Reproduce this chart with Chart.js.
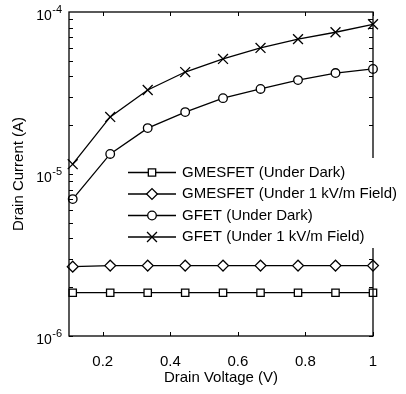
<!DOCTYPE html>
<html>
<head>
<meta charset="utf-8">
<script src="https://cdn.jsdelivr.net/npm/chart.js@4/dist/chart.umd.min.js"></script>
<style>
  html, body { margin: 0; padding: 0; background: #fff; }
  canvas { display: block; }
</style>
</head>
<body>
<canvas id="chart" width="406" height="394"></canvas>
<script>
// Drain voltage sweep (V)
const drainVoltage = [0.111, 0.222, 0.333, 0.444, 0.556, 0.667, 0.778, 0.889, 1.0];

// Drain current (A) for each device / condition
const gmesfetDark  = [1.85e-6, 1.85e-6, 1.85e-6, 1.85e-6, 1.85e-6, 1.85e-6, 1.85e-6, 1.85e-6, 1.85e-6];
const gmesfetField = [2.68e-6, 2.72e-6, 2.72e-6, 2.72e-6, 2.72e-6, 2.72e-6, 2.72e-6, 2.72e-6, 2.72e-6];
const gfetDark     = [7.0e-6, 1.33e-5, 1.92e-5, 2.41e-5, 2.94e-5, 3.35e-5, 3.8e-5, 4.2e-5, 4.45e-5];
const gfetField    = [1.15e-5, 2.25e-5, 3.3e-5, 4.26e-5, 5.13e-5, 6.0e-5, 6.8e-5, 7.5e-5, 8.4e-5];

const seriesNames = [
  'GMESFET (Under Dark)',
  'GMESFET (Under 1 kV/m Field)',
  'GFET (Under Dark)',
  'GFET (Under 1 kV/m Field)'
];

const xTickValues = [0.2, 0.4, 0.6, 0.8, 1];
const yDecadeExponents = [-6, -5, -4];

const FONT = '"Liberation Sans", Arial, Helvetica, sans-serif';
const seriesValues = [gmesfetDark, gmesfetField, gfetDark, gfetField];
const markerStyle = ['rect', 'rectRot', 'circle', 'crossRot'];
const markerRadius = [5.2, 5.4, 4.3, 7];

const datasets = seriesValues.map((vals, i) => ({
  label: seriesNames[i],
  data: drainVoltage.map((v, k) => ({ x: v, y: vals[k] })),
  borderColor: '#000',
  borderWidth: 1.3,
  pointStyle: markerStyle[i],
  pointRadius: markerRadius[i],
  pointBackgroundColor: '#fff',
  pointBorderColor: '#000',
  pointBorderWidth: 1.3,
  tension: 0,
  clip: false
}));

// Boxed axes with inward ticks and 10^n labels on the log axis
const axesFrame = {
  id: 'axesFrame',
  afterDatasetsDraw(chart) {
    const { ctx, chartArea: a, scales: { x, y } } = chart;
    ctx.save();
    ctx.strokeStyle = '#000';
    ctx.lineWidth = 1.3;
    ctx.strokeRect(a.left, a.top, a.right - a.left, a.bottom - a.top);

    ctx.lineWidth = 1;
    ctx.beginPath();
    const tl = 4;
    xTickValues.forEach(v => {
      const px = Math.round(x.getPixelForValue(v)) + 0.5;
      ctx.moveTo(px, a.bottom); ctx.lineTo(px, a.bottom - tl);
      ctx.moveTo(px, a.top); ctx.lineTo(px, a.top + tl);
    });
    for (let d = 0; d < yDecadeExponents.length - 1; d++) {
      for (let m = 1; m <= 9; m++) {
        const py = Math.round(y.getPixelForValue(m * Math.pow(10, yDecadeExponents[d]))) + 0.5;
        ctx.moveTo(a.left, py); ctx.lineTo(a.left + tl, py);
        ctx.moveTo(a.right, py); ctx.lineTo(a.right - tl, py);
      }
    }
    ctx.stroke();

    ctx.fillStyle = '#000';
    ctx.textBaseline = 'middle';
    yDecadeExponents.forEach(e => {
      const py = y.getPixelForValue(Math.pow(10, e));
      const expText = String(e);
      ctx.font = '11px ' + FONT;
      const expW = ctx.measureText(expText).width;
      const right = a.left - 7;
      ctx.textAlign = 'left';
      ctx.fillText(expText, right - expW, py - 2.5);
      ctx.font = '14px ' + FONT;
      ctx.textAlign = 'right';
      ctx.fillText('10', right - expW - 0.5, py + 4.5);
    });
    ctx.restore();
  }
};

// Legend inside the axes: line sample with marker, then the series name
const insetLegend = {
  id: 'insetLegend',
  afterDatasetsDraw(chart) {
    const { ctx } = chart;
    ctx.save();
    ctx.fillStyle = '#fff';
    ctx.fillRect(122, 158, 284, 90);
    const rowY = [172.5, 194, 215.5, 237];
    chart.data.datasets.forEach((ds, i) => {
      const yy = rowY[i];
      ctx.strokeStyle = '#000';
      ctx.lineWidth = 1.3;
      ctx.beginPath();
      ctx.moveTo(128, yy); ctx.lineTo(176, yy);
      ctx.stroke();
      ctx.fillStyle = '#fff';
      Chart.helpers.drawPoint(ctx, {
        pointStyle: ds.pointStyle,
        radius: ds.pointRadius,
        borderWidth: ds.pointBorderWidth,
        rotation: 0
      }, 152, yy);
      ctx.fillStyle = '#000';
      ctx.font = '15px ' + FONT;
      ctx.textAlign = 'left';
      ctx.textBaseline = 'middle';
      ctx.fillText(ds.label, 182, yy);
    });
    ctx.restore();
  }
};

new Chart(document.getElementById('chart'), {
  type: 'line',
  data: { datasets },
  options: {
    responsive: false,
    animation: false,
    layout: { padding: { top: 12, right: 33, left: 0, bottom: 0 } },
    plugins: {
      legend: { display: false },
      tooltip: { enabled: false }
    },
    scales: {
      x: {
        type: 'linear',
        min: 0.1,
        max: 1,
        grid: { display: false },
        border: { display: false },
        afterBuildTicks: s => { s.ticks = xTickValues.map(v => ({ value: v })); },
        ticks: {
          color: '#000',
          font: { family: FONT, size: 15 },
          padding: 9,
          maxRotation: 0,
          autoSkip: false,
          callback: v => String(v)
        },
        title: {
          display: true,
          text: 'Drain Voltage (V)',
          color: '#000',
          font: { family: FONT, size: 15 },
          padding: { top: 0, bottom: 7 }
        },
        afterFit: s => { s.height = 58; }
      },
      y: {
        type: 'logarithmic',
        min: 1e-6,
        max: 1e-4,
        grid: { display: false },
        border: { display: false },
        ticks: { display: false },
        title: {
          display: true,
          text: 'Drain Current (A)',
          color: '#000',
          font: { family: FONT, size: 15 },
          padding: { top: 10, bottom: 0 }
        },
        afterFit: s => { s.width = 69; }
      }
    }
  },
  plugins: [axesFrame, insetLegend]
});
</script>
</body>
</html>
